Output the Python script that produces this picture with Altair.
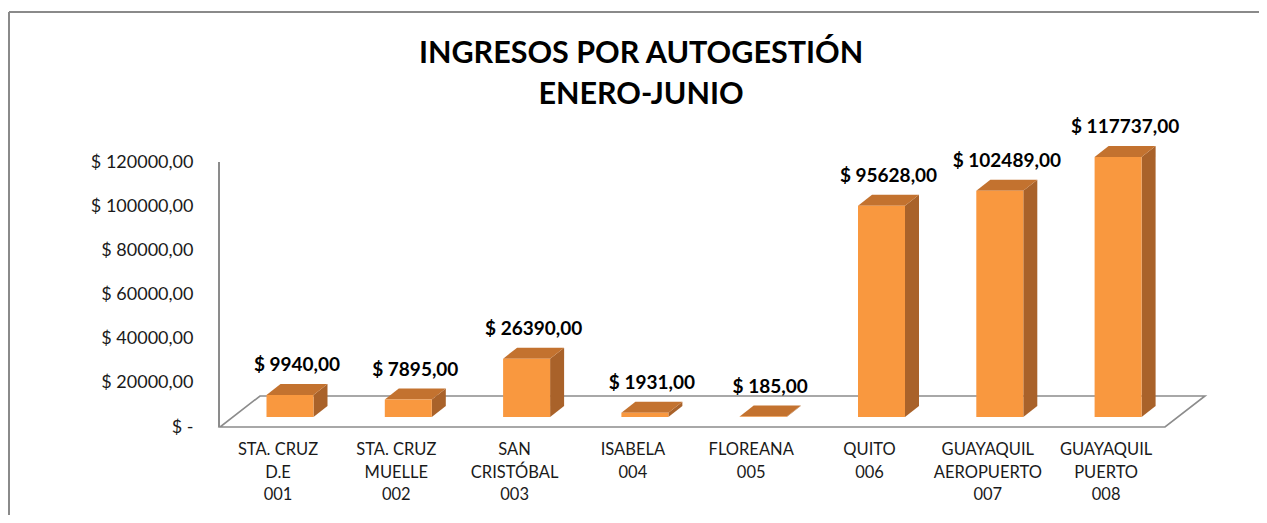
import altair as alt
import pandas as pd

# ---- data ----
categories = [
    "STA. CRUZ\nD.E\n001",
    "STA. CRUZ\nMUELLE\n002",
    "SAN\nCRISTÓBAL\n003",
    "ISABELA\n004",
    "FLOREANA\n005",
    "QUITO\n006",
    "GUAYAQUIL\nAEROPUERTO\n007",
    "GUAYAQUIL\nPUERTO\n008",
]
values = [9940, 7895, 26390, 1931, 185, 95628, 102489, 117737]
value_labels = ["$ 9940,00", "$ 7895,00", "$ 26390,00", "$ 1931,00",
                "$ 185,00", "$ 95628,00", "$ 102489,00", "$ 117737,00"]
y_ticks = [0, 20000, 40000, 60000, 80000, 100000, 120000]
title_lines = "INGRESOS POR AUTOGESTIÓN\nENERO-JUNIO"

# ---- layout (pixels) ----
W, H = 1251, 507
X0, STEP = 282.0, 118.3           # view x of first bar centre, spacing
Y0, PXU = 409.0, 265.0 / 120000   # view y of value 0, px per unit
HW = 23.5 / STEP                  # half bar width (slot units)
DX = 14.0 / STEP                  # depth x (slot units)
DY = 11.0 / PXU                   # depth y (value units)

xs = alt.Scale(domain=[-2, 8], range=[X0 - 2 * STEP, X0 + 8 * STEP], nice=False, zero=False)
ys = alt.Scale(domain=[0, 120000], range=[Y0, Y0 - 120000 * PXU], nice=False, zero=False)

FONT = "Lato"
FRONT, SIDE, TOP = "#F9983F", "#A9622A", "#C3722F"

y_axis = alt.Axis(
    values=y_ticks,
    labelExpr="datum.value == 0 ? '$ -\u00a0\u00a0\u00a0\u00a0\u00a0' : '$ ' + format(datum.value, 'd') + ',00'",
    domain=False, ticks=False, tickSize=0, grid=False, title=None,
    offset=-185, labelPadding=0, labelOffset=10,
    labelFont=FONT, labelFontSize=18, labelColor="#1a1a1a",
)

n = len(values)
front = pd.DataFrame({
    "slot": list(range(n)),
    "x1": [i - HW for i in range(n)],
    "x2": [i + HW for i in range(n)],
    "zero": [0] * n,
    "v": values,
    "lab": value_labels,
    "cat": categories,
})

side_rows, top_rows = [], []
for i, v in enumerate(values):
    side_rows += [
        {"bar": i, "x": i + HW, "lo": 0, "hi": v},
        {"bar": i, "x": i + HW + DX, "lo": DY, "hi": v + DY},
    ]
    top_rows += [
        {"bar": i, "x": i - HW, "lo": v, "hi": v},
        {"bar": i, "x": i - HW + DX, "lo": v, "hi": v + DY},
        {"bar": i, "x": i + HW, "lo": v, "hi": v + DY},
        {"bar": i, "x": i + HW + DX, "lo": v + DY, "hi": v + DY},
    ]
side = pd.DataFrame(side_rows)
top = pd.DataFrame(top_rows)

# floor parallelogram (converted from pixel geometry)
fy_front = (Y0 - 419) / PXU
fy_back = (Y0 - 388) / PXU
fx = lambda px: (px - X0) / STEP
floor = pd.DataFrame([
    {"x": fx(212), "lo": fy_front, "hi": fy_front},
    {"x": fx(252), "lo": fy_front, "hi": fy_back},
    {"x": fx(1157), "lo": fy_front, "hi": fy_back},
    {"x": fx(1197), "lo": fy_back, "hi": fy_back},
])

floor_layer = alt.Chart(floor).mark_area(
    color="white", stroke="#8c8c8c", strokeWidth=1.6, interpolate="linear"
).encode(
    x=alt.X("x:Q", scale=xs, axis=None),
    y=alt.Y("lo:Q", scale=ys, axis=y_axis),
    y2="hi:Q",
)

front_layer = alt.Chart(front).mark_rect(color=FRONT).encode(
    x=alt.X("x1:Q", scale=xs, axis=None),
    x2="x2:Q",
    y=alt.Y("zero:Q", scale=ys, axis=y_axis),
    y2="v:Q",
)

side_layer = alt.Chart(side).mark_area(color=SIDE, interpolate="linear").encode(
    x=alt.X("x:Q", scale=xs, axis=None),
    y=alt.Y("lo:Q", scale=ys, axis=y_axis),
    y2="hi:Q",
    detail="bar:N",
)

top_layer = alt.Chart(top).mark_area(color=TOP, interpolate="linear").encode(
    x=alt.X("x:Q", scale=xs, axis=None),
    y=alt.Y("lo:Q", scale=ys, axis=y_axis),
    y2="hi:Q",
    detail="bar:N",
)

value_text = alt.Chart(front).mark_text(
    font=FONT, fontSize=19, fontWeight="bold", color="#000000",
    dx=7, dy=-24, baseline="alphabetic", align="center",
).encode(
    x=alt.X("slot:Q", scale=xs, axis=None),
    y=alt.Y("v:Q", scale=ys, axis=y_axis),
    text="lab:N",
)

cat_text = alt.Chart(front).mark_text(
    font=FONT, fontSize=16.5, color="#1a1a1a", lineBreak="\n", lineHeight=22.5,
    dx=-12, baseline="alphabetic", align="center",
).encode(
    x=alt.X("slot:Q", scale=xs, axis=None),
    y=alt.value(447),
    text="cat:N",
)

title_layer = alt.Chart(pd.DataFrame({"t": [title_lines]})).mark_text(
    font=FONT, fontSize=30.5, fontWeight="bold", color="#000000",
    lineBreak="\n", lineHeight=41, baseline="alphabetic", align="center",
).encode(x=alt.value(633), y=alt.value(55), text="t:N")

axis_line = alt.Chart(front).mark_rule(color="#8c8c8c", strokeWidth=1.6).encode(
    x=alt.value(211), y=alt.value(154), y2=alt.value(419)
)
border_left = alt.Chart(front).mark_rule(color="#8a8a8a", strokeWidth=2).encode(
    x=alt.value(1), y=alt.value(4), y2=alt.value(H)
)
border_top = alt.Chart(front).mark_rule(color="#8a8a8a", strokeWidth=2).encode(
    x=alt.value(1), x2=alt.value(W + 8), y=alt.value(4)
)

chart = alt.layer(
    floor_layer, border_left, border_top, axis_line,
    side_layer, top_layer, front_layer, value_text, cat_text, title_layer,
).properties(
    width=W, height=H, autosize=alt.AutoSizeParams(type="none"), padding=0,
    background="white",
).configure_view(stroke=None, clip=False)

chart.save("out.html", embed_options={"renderer": "svg", "actions": False})
